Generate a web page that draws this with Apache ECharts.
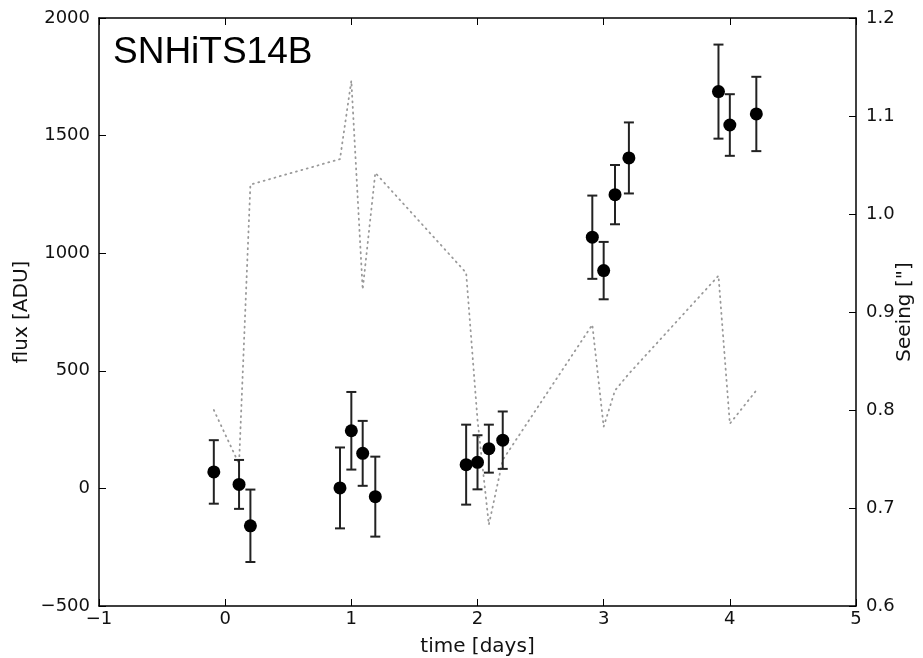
<!DOCTYPE html>
<html>
<head>
<meta charset="utf-8">
<script src="https://cdn.jsdelivr.net/npm/echarts@6/dist/echarts.min.js"></script>
<style>
  html, body { margin: 0; padding: 0; background: #fff; }
  #main { width: 923px; height: 658px; }
</style>
</head>
<body>
<div id="main"></div>
<script>
// observation times [days]
var times = [-0.09, 0.11, 0.20, 0.91, 1.00, 1.09, 1.19, 1.91, 2.00, 2.09, 2.20, 2.91, 3.00, 3.09, 3.20, 3.91, 4.00, 4.21];
// flux [ADU] and its 1-sigma error
var flux = [70, 17, -159, 2, 245, 149, -35, 101, 111, 169, 205, 1068, 926, 1249, 1405, 1687, 1545, 1592];
var fluxErr = [135, 104, 154, 172, 165, 138, 170, 170, 115, 102, 122, 177, 122, 126, 151, 200, 131, 158];
// seeing ["] at the same epochs
var seeing = [0.80, 0.745, 1.03, 1.056, 1.136, 0.923, 1.042, 0.94, 0.79, 0.683, 0.749, 0.887, 0.783, 0.82, 0.837, 0.937, 0.786, 0.82];

var xTicks = [-1, 0, 1, 2, 3, 4, 5];

var fluxPts = times.map(function (t, i) { return [t, flux[i]]; });
var errPts = times.map(function (t, i) { return [t, flux[i] - fluxErr[i], flux[i] + fluxErr[i]]; });
var seeingPts = times.map(function (t, i) { return [t, seeing[i]]; });

function minus(v) { return String(v).replace('-', '\u2212'); }

var tickFont = { fontFamily: 'DejaVu Sans', fontSize: 18, color: '#111' };
var nameFont = { fontFamily: 'DejaVu Sans', fontSize: 20, color: '#111' };

var myChart = echarts.init(document.getElementById('main'));
var option = {
    animation: false,
    backgroundColor: '#fff',
    title: {
        text: 'SNHiTS14B',
        left: 108,
        top: 29,
        textStyle: { fontFamily: 'Liberation Sans', fontSize: 37, fontWeight: 'normal', color: '#000' }
    },
    grid: { left: 99, right: 67, top: 18, bottom: 52, containLabel: false, outerBoundsMode: 'none' },
    xAxis: [{
        type: 'value',
        min: xTicks[0], max: xTicks[xTicks.length - 1], interval: 1,
        name: 'time [days]', nameLocation: 'middle', nameGap: 31, nameMoveOverlap: false,
        nameTextStyle: nameFont,
        axisLine: { onZero: false, lineStyle: { color: '#000', width: 1.5 } },
        axisTick: { inside: true, length: 7, lineStyle: { color: '#000' } },
        axisLabel: Object.assign({ margin: 4, formatter: minus }, tickFont),
        splitLine: { show: false }
    }, {
        type: 'value', position: 'top',
        min: xTicks[0], max: xTicks[xTicks.length - 1], interval: 1,
        axisLine: { onZero: false, lineStyle: { color: '#000', width: 1.5 } },
        axisTick: { inside: true, length: 7, lineStyle: { color: '#000' } },
        axisLabel: { show: false },
        splitLine: { show: false }
    }],
    yAxis: [{
        type: 'value', position: 'left',
        min: -500, max: 2000, interval: 500,
        name: 'flux [ADU]', nameLocation: 'middle', nameGap: 67, nameMoveOverlap: false,
        nameTextStyle: nameFont,
        axisLine: { show: true, onZero: false, lineStyle: { color: '#000', width: 1.5 } },
        axisTick: { show: true, inside: true, length: 7, lineStyle: { color: '#000' } },
        axisLabel: Object.assign({ margin: 9, formatter: minus }, tickFont),
        splitLine: { show: false }
    }, {
        type: 'value', position: 'right',
        min: 0.6, max: 1.2, interval: 0.1,
        name: 'Seeing ["]', nameLocation: 'middle', nameGap: 39, nameRotate: 90, nameMoveOverlap: false,
        nameTextStyle: nameFont,
        axisLine: { show: true, onZero: false, lineStyle: { color: '#000', width: 1.5 } },
        axisTick: { show: true, inside: true, length: 7, lineStyle: { color: '#000' } },
        axisLabel: Object.assign({ margin: 10, formatter: function (v) { return v.toFixed(1); } }, tickFont),
        splitLine: { show: false }
    }],
    series: [{
        name: 'seeing',
        type: 'line',
        xAxisIndex: 0, yAxisIndex: 1,
        data: seeingPts,
        symbol: 'none',
        lineStyle: { color: '#999', width: 1.8, type: [1, 4.6], cap: 'round' },
        z: 1
    }, {
        name: 'error',
        type: 'custom',
        xAxisIndex: 0, yAxisIndex: 0,
        data: errPts,
        renderItem: function (params, api) {
            var lo = api.coord([api.value(0), api.value(1)]);
            var hi = api.coord([api.value(0), api.value(2)]);
            var hw = 5;
            var st = { stroke: '#222', lineWidth: 2 };
            return {
                type: 'group',
                children: [
                    { type: 'line', shape: { x1: lo[0], y1: lo[1], x2: hi[0], y2: hi[1] }, style: st },
                    { type: 'line', shape: { x1: lo[0] - hw, y1: lo[1], x2: lo[0] + hw, y2: lo[1] }, style: st },
                    { type: 'line', shape: { x1: hi[0] - hw, y1: hi[1], x2: hi[0] + hw, y2: hi[1] }, style: st }
                ]
            };
        },
        z: 2
    }, {
        name: 'flux',
        type: 'scatter',
        xAxisIndex: 0, yAxisIndex: 0,
        data: fluxPts,
        symbol: 'circle',
        symbolSize: 13,
        itemStyle: { color: '#000', opacity: 1 },
        z: 3
    }]
};
myChart.setOption(option);
</script>
</body>
</html>
